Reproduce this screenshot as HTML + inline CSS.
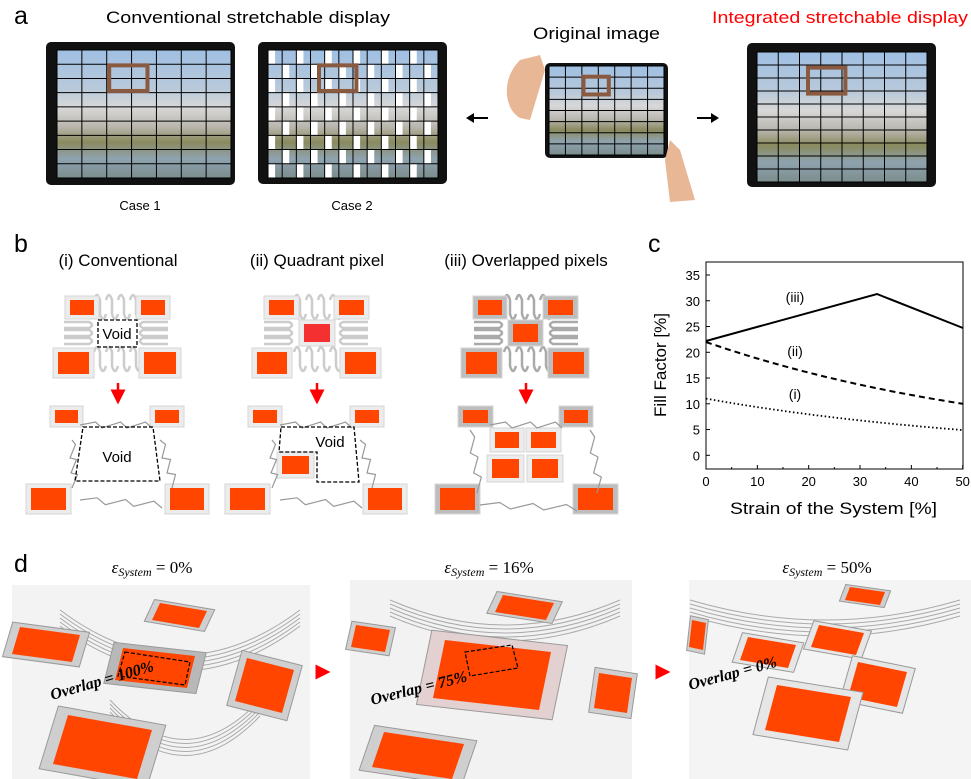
<!DOCTYPE html>
<html><head><meta charset="utf-8"><style>
html,body{margin:0;padding:0;background:#fff}
svg{display:block}
.s{font-family:"Liberation Sans",sans-serif}
.r{font-family:"Liberation Serif",serif;font-style:italic}
</style></head><body>
<svg id="s" width="971" height="779" viewBox="0 0 971 779" xmlns="http://www.w3.org/2000/svg">
<defs>
<linearGradient id="img" x1="0" y1="0" x2="0" y2="1">
<stop offset="0" stop-color="#9fbfe3"/><stop offset="0.3" stop-color="#b8c9da"/>
<stop offset="0.45" stop-color="#d8d8d8"/><stop offset="0.6" stop-color="#b9b6ae"/>
<stop offset="0.72" stop-color="#8a8a5e"/><stop offset="0.85" stop-color="#8fa3b0"/>
<stop offset="1" stop-color="#7c8d8c"/></linearGradient>
<marker id="ah" markerWidth="6" markerHeight="6" refX="5" refY="3" orient="auto"><path d="M0,0L6,3L0,6z" fill="#f00"/></marker>
</defs>
<g class="s">
<text x="14" y="24" font-size="25">a</text>
<text x="106" y="23" font-size="17" textLength="284" lengthAdjust="spacingAndGlyphs">Conventional stretchable display</text>
<text x="533" y="39" font-size="17" textLength="127" lengthAdjust="spacingAndGlyphs">Original image</text>
<text x="712" y="23" font-size="17" fill="#f00" textLength="256" lengthAdjust="spacingAndGlyphs">Integrated stretchable display</text>
<text x="140" y="210" font-size="13" text-anchor="middle">Case 1</text>
<text x="352" y="210" font-size="13" text-anchor="middle">Case 2</text>
</g>
<g id="tabs"></g>
<path d="M520,118 C505,110 500,80 520,60 L540,55 L545,70 L530,120 Z" fill="#e8b796"/>
<path d="M670,140 L680,150 L695,200 L670,202 L665,160 Z" fill="#e8b796"/>
<g stroke="#000" stroke-width="2"><line x1="488" y1="118" x2="472" y2="118"/><line x1="697" y1="118" x2="713" y2="118"/></g>
<path d="M466,118 L474,113 L474,123Z M719,118 L711,113 L711,123Z" fill="#000"/>
<!-- panel b -->
<g class="s">
<text x="14" y="252" font-size="25">b</text>
<text x="118" y="266" font-size="17" text-anchor="middle">(i) Conventional</text>
<text x="317" y="266" font-size="17" text-anchor="middle">(ii) Quadrant pixel</text>
<text x="526" y="266" font-size="17" text-anchor="middle">(iii) Overlapped pixels</text>
</g>
<g id="bq"></g>
<g stroke="#f00" stroke-width="2.5" marker-end="url(#ah)">
<line x1="118" y1="383" x2="118" y2="402"/><line x1="317" y1="383" x2="317" y2="402"/><line x1="526" y1="383" x2="526" y2="402"/></g>
<g fill="none" stroke="#000" stroke-width="1.3" stroke-dasharray="4,2">
<rect x="98" y="320" width="39" height="27"/>
<path d="M83,427L153,427L160,481L75,481Z"/>
<path d="M281,427L354,427L359,482L317,482L317,452L279,452Z"/></g>
<g class="s">
<text x="117" y="339" font-size="15" text-anchor="middle">Void</text>
<text x="117" y="462" font-size="15" text-anchor="middle">Void</text>
<text x="330" y="447" font-size="15" text-anchor="middle">Void</text>
<!-- panel c -->
<text x="648" y="252" font-size="25">c</text>
</g>
<rect x="706" y="262" width="257" height="207" fill="none" stroke="#000" stroke-width="1"/>
<g id="ax" class="s"></g>
<g class="s">
<text x="730" y="514" font-size="17" textLength="207" lengthAdjust="spacingAndGlyphs">Strain of the System [%]</text>
<text transform="translate(666,365) rotate(-90)" font-size="17" text-anchor="middle">Fill Factor [%]</text>
<text x="795" y="302" font-size="14" text-anchor="middle">(iii)</text>
<text x="795" y="356" font-size="14" text-anchor="middle">(ii)</text>
<text x="795" y="399" font-size="14" text-anchor="middle">(i)</text>
</g>
<polyline points="706,341 877,294 963,328" fill="none" stroke="#000" stroke-width="2"/>
<path id="c2" fill="none" stroke="#000" stroke-width="2" stroke-dasharray="6,4"/>
<path id="c1" fill="none" stroke="#000" stroke-width="1.8" stroke-dasharray="1.5,2.5"/>
<!-- panel d -->
<text class="s" x="14" y="572" font-size="25">d</text>
<g class="r" font-size="17" text-anchor="middle">
<text x="152" y="573">ε<tspan font-size="12" dy="3">System</tspan><tspan dy="-3" font-style="normal"> = 0%</tspan></text>
<text x="489" y="573">ε<tspan font-size="12" dy="3">System</tspan><tspan dy="-3" font-style="normal"> = 16%</tspan></text>
<text x="827" y="573">ε<tspan font-size="12" dy="3">System</tspan><tspan dy="-3" font-style="normal"> = 50%</tspan></text>
</g>
<rect x="12" y="585" width="298" height="194" fill="#f3f3f3"/>
<rect x="350" y="580" width="282" height="199" fill="#f2f2f2"/>
<rect x="689" y="580" width="282" height="199" fill="#f4f4f4"/>
<g id="dp"></g>
<g stroke="#f00" stroke-width="2.5" marker-end="url(#ah)"><line x1="316" y1="672" x2="328" y2="672"/><line x1="656" y1="672" x2="668" y2="672"/></g>
<g class="r" font-weight="bold" font-size="16">
<text transform="translate(52,700) rotate(-16)">Overlap = 100%</text>
<text transform="translate(372,705) rotate(-14)">Overlap = 75%</text>
<text transform="translate(690,690) rotate(-15)">Overlap = 0%</text>
</g>
</svg>
<script>
var NS="http://www.w3.org/2000/svg";
function el(p,t,a){var e=document.createElementNS(NS,t);for(var k in a)e.setAttribute(k,a[k]);p.appendChild(e);return e;}
var tabs=document.getElementById("tabs");
function tab(x0,y0,x1,y1,ix0,iy0,ix1,iy1,c,r,check){
 el(tabs,"rect",{x:x0,y:y0,width:x1-x0,height:y1-y0,rx:5,fill:"#111"});
 el(tabs,"rect",{x:ix0,y:iy0,width:ix1-ix0,height:iy1-iy0,fill:"url(#img)"});
 var cw=(ix1-ix0)/c,rh=(iy1-iy0)/r;
 if(check){for(var i=0;i<c;i++)for(var j=0;j<r;j++)if((i+j)%2==0)el(tabs,"rect",{x:ix0+i*cw,y:iy0+j*rh,width:cw/2,height:rh,fill:"#fff"});}
 for(var i=0;i<=c;i++)el(tabs,"line",{x1:ix0+i*cw,y1:iy0,x2:ix0+i*cw,y2:iy1,stroke:"#000","stroke-width":1});
 for(var j=0;j<=r;j++)el(tabs,"line",{x1:ix0,y1:iy0+j*rh,x2:ix1,y2:iy0+j*rh,stroke:"#000","stroke-width":1});
 el(tabs,"rect",{x:ix0+(ix1-ix0)*0.3,y:iy0+(iy1-iy0)*0.12,width:(ix1-ix0)*0.22,height:(iy1-iy0)*0.2,fill:"none",stroke:"#8a5a40","stroke-width":4});
}
tab(46,42,235,185,57,50,231,178,7,9,false);
tab(258,42,447,184,268,50,438,178,12,9,true);
tab(545,63,668,158,549,66,664,155,7,8,false);
tab(747,43,936,187,757,52,927,182,8,10,false);
var bq=document.getElementById("bq");
function sq(x0,y0,x1,y1,dark,col){
 el(bq,"rect",{x:x0-5,y:y0-4,width:x1-x0+10,height:y1-y0+8,fill:dark?"#bdbdbd":"#ececec",stroke:"#d6d6d6"});
 el(bq,"rect",{x:x0,y:y0,width:x1-x0,height:y1-y0,fill:col||"#ff4500"});
}
[[52,295,180,378],[252,295,380,378],[462,295,590,378]].forEach(function(b,i){
 var cx=(b[0]+b[2])/2;
 for(var k=0;k<4;k++){
  el(bq,"path",{d:"M"+(cx-22+k*12)+",300 q3,-10 6,0 v14 q3,10 6,0",fill:"none",stroke:i==2?"#aaa":"#ccc","stroke-width":2.5});
  el(bq,"path",{d:"M"+(cx-22+k*12)+",352 q3,-10 6,0 v14 q3,10 6,0",fill:"none",stroke:i==2?"#aaa":"#ccc","stroke-width":2.5});
 }
 for(var k=0;k<3;k++){
  el(bq,"path",{d:"M"+(b[0]+12)+","+(322+k*8)+" h25 q6,3 0,6 h-25",fill:"none",stroke:i==2?"#aaa":"#ccc","stroke-width":2.5});
  el(bq,"path",{d:"M"+(b[2]-12)+","+(322+k*8)+" h-25 q-6,3 0,6 h25",fill:"none",stroke:i==2?"#aaa":"#ccc","stroke-width":2.5});
 }
});
sq(70,300,94,315);sq(141,300,165,315);sq(58,352,89,374);sq(144,352,176,374);
sq(55,410,78,423);sq(155,410,179,423);sq(31,488,66,510);sq(170,488,204,510);
sq(269,300,294,315);sq(339,300,364,315);sq(304,324,330,342,false,"#f43030");sq(257,352,287,374);sq(345,352,376,374);
sq(253,410,277,423);sq(355,410,379,423);sq(282,456,309,474);sq(230,488,265,510);sq(368,488,402,510);
sq(478,300,502,315,1);sq(548,300,573,315,1);sq(513,324,538,342,1);sq(466,352,497,374,1);sq(553,352,584,374,1);
sq(463,410,488,423,1);sq(564,410,588,423,1);sq(495,432,519,448);sq(531,432,556,448);sq(492,459,519,478);sq(532,459,558,478);sq(440,488,475,510,1);sq(578,488,613,510,1);
[[80,425,155,425],[72,440,75,485],[160,440,175,485],[80,500,165,505],[280,425,355,425],[272,440,275,485],[360,440,375,485],[280,500,365,505],[490,425,565,425],[470,430,480,490],[590,430,600,490],[480,505,580,508]].forEach(function(l){
 var d="M"+l[0]+","+l[1];var n=6;for(var i=1;i<=n;i++){var x=l[0]+(l[2]-l[0])*i/n,y=l[1]+(l[3]-l[1])*i/n;d+=" L"+(x+(i%2?3:-3))+","+(y+(i%2?-3:3));}
 el(bq,"path",{d:d,fill:"none",stroke:"#999","stroke-width":1.2});});
var ax=document.getElementById("ax");
function X(v){return 706+v*5.134;}function Y(v){return 455.3-v*5.151;}
for(var v=0;v<=35;v+=5){el(ax,"line",{x1:706,y1:Y(v),x2:710,y2:Y(v),stroke:"#000"});var t=el(ax,"text",{x:700,y:Y(v)+5,"font-size":13,"text-anchor":"end"});t.textContent=v;}
for(var v=0;v<=50;v+=10){el(ax,"line",{x1:X(v),y1:469,x2:X(v),y2:465,stroke:"#000"});var t=el(ax,"text",{x:X(v),y:486,"font-size":13,"text-anchor":"middle"});t.textContent=v;}
for(var v=5;v<50;v+=10)el(ax,"line",{x1:X(v),y1:469,x2:X(v),y2:467,stroke:"#000"});
function curve(a,b){var d="";for(var i=0;i<=50;i++){var v=a*Math.pow(b/a,i/50);d+=(i?"L":"M")+X(i).toFixed(1)+","+Y(v).toFixed(1);}return d;}
document.getElementById("c2").setAttribute("d",curve(22,10));
document.getElementById("c1").setAttribute("d",curve(11,4.9));
var dp=document.getElementById("dp");
function pg(pts,tile){
 var cx=0,cy=0;pts.forEach(function(p){cx+=p[0]/4;cy+=p[1]/4;});
 var big=pts.map(function(p){return [cx+(p[0]-cx)*1.28,cy+(p[1]-cy)*1.28];});
 el(dp,"polygon",{points:big.map(String).join(" "),fill:tile||"#cfcfcf",stroke:"#999"});
 el(dp,"polygon",{points:pts.map(String).join(" "),fill:"#ff4500"});
}
function q(x0,y0,x1,y1,sk){sk=sk||8;return [[x0+sk,y0],[x1,y0+sk],[x1-sk,y1],[x0,y1-sk]];}
[[60,610,300,700],[110,700,260,779],[390,600,620,650],[690,600,960,640]].forEach(function(b){
 for(var i=0;i<5;i++)el(dp,"path",{d:"M"+b[0]+","+(b[1]+i*4)+" Q"+((b[0]+b[2])/2)+","+(b[3]+i*4)+" "+b[2]+","+(b[1]+i*4),fill:"none",stroke:"#aaa","stroke-width":1});});
pg(q(12,627,80,662));pg(q(152,603,207,628));pg(q(115,648,195,688),"#b8b8b8");pg(q(235,658,294,713,12));pg(q(53,715,152,779,15));
pg(q(495,595,554,620));pg(q(351,625,390,652,5));pg(q(433,640,551,710,12),"#e3d0d0");pg(q(594,673,632,713,5));pg(q(372,732,464,779,12));
pg(q(845,587,885,605,5));pg(q(689,620,706,650,3));pg(q(740,637,796,668,8),"#e6e6e6");pg(q(811,625,864,655,8),"#e6e6e6");pg(q(848,662,907,707,10),"#e6e6e6");pg(q(765,685,851,742,12),"#e6e6e6");
el(dp,"polygon",{points:"125,652 190,662 185,685 118,676",fill:"none",stroke:"#000","stroke-dasharray":"4,2","stroke-width":1.2});
el(dp,"polygon",{points:"465,652 512,645 518,668 470,676",fill:"none",stroke:"#000","stroke-dasharray":"4,2","stroke-width":1.2});
</script>
</body></html>
